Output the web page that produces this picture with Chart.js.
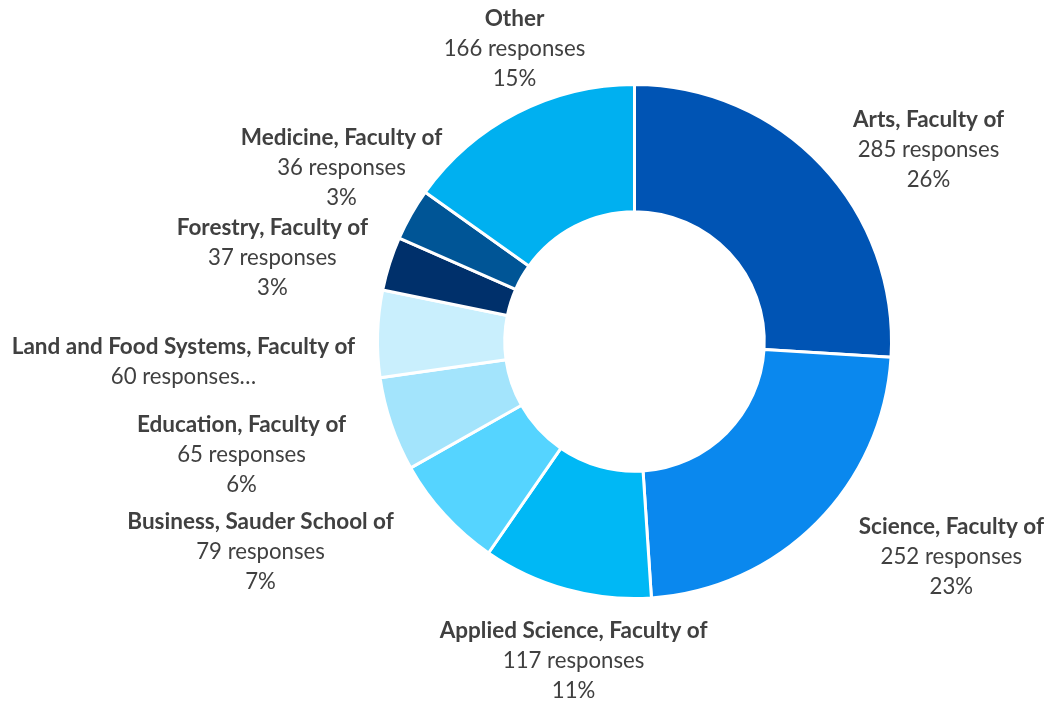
<!DOCTYPE html>
<html>
<head>
<meta charset="utf-8">
<title>Responses by faculty</title>
<script src="https://cdn.jsdelivr.net/npm/chart.js@4.4.1/dist/chart.umd.min.js"></script>
<style>
    html, body {
        margin: 0;
        padding: 0;
        background: #ffffff;
    }
    #wrap {
        width: 1048px;
        height: 702px;
    }
</style>
</head>
<body>
<div id="wrap">
    <canvas id="facultyChart" width="1048" height="702"></canvas>
</div>
<script>
const faculties = [
    "Arts, Faculty of",
    "Science, Faculty of",
    "Applied Science, Faculty of",
    "Business, Sauder School of",
    "Education, Faculty of",
    "Land and Food Systems, Faculty of",
    "Forestry, Faculty of",
    "Medicine, Faculty of",
    "Other"
];

const responses = [285, 252, 117, 79, 65, 60, 37, 36, 166];

// Excel cut this one short after the count
const truncatedLabels = ["Land and Food Systems, Faculty of"];

const sliceColors = [
    "#0054b4",
    "#0a88ee",
    "#00b8f5",
    "#55d4ff",
    "#a3e4fc",
    "#c9effd",
    "#00306b",
    "#005596",
    "#00b0f0"
];

// label block centres, in units of the outer radius from the chart centre
const labelOffsets = [
    [1.144, -0.747],
    [1.233, 0.837],
    [-0.237, 1.241],
    [-1.455, 0.817],
    [-1.529, 0.440],
    [-1.755, 0.078],
    [-1.409, -0.327],
    [-1.140, -0.677],
    [-0.467, -1.140]
];

const fontFamily = "Lato, 'Open Sans', sans-serif";
const total = responses.reduce((sum, value) => sum + value, 0);

function labelLines(index) {
    const name = faculties[index];
    const count = responses[index];
    if (truncatedLabels.includes(name)) {
        return [name, `${count} responses\u2026`];
    }
    const pct = Math.round((count / total) * 100);
    return [name, `${count} responses`, `${pct}%`];
}

const outsideLabels = {
    id: "outsideLabels",
    afterDatasetsDraw(chart) {
        const ctx = chart.ctx;
        const meta = chart.getDatasetMeta(0);
        const lineHeight = 30;

        ctx.save();
        ctx.fillStyle = "#404040";
        ctx.textAlign = "center";
        ctx.textBaseline = "middle";

        meta.data.forEach((arc, index) => {
            const offset = labelOffsets[index];
            const cx = arc.x + offset[0] * arc.outerRadius;
            const cy = arc.y + offset[1] * arc.outerRadius;
            const lines = labelLines(index);
            const top = cy - ((lines.length - 1) * lineHeight) / 2;

            lines.forEach((line, lineIndex) => {
                ctx.font = lineIndex === 0 ? `bold 22.5px ${fontFamily}` : `22.2px ${fontFamily}`;
                ctx.fillText(line, cx, top + lineIndex * lineHeight);
            });
        });

        ctx.restore();
    }
};

new Chart(document.getElementById("facultyChart"), {
    type: "doughnut",
    data: {
        labels: faculties,
        datasets: [
            {
                data: responses,
                backgroundColor: sliceColors,
                borderColor: "#ffffff",
                borderWidth: 3
            }
        ]
    },
    options: {
        responsive: false,
        animation: false,
        cutout: "50.5%",
        layout: {
            padding: { top: 83, bottom: 102, left: 376, right: 155 }
        },
        plugins: {
            legend: { display: false },
            tooltip: { enabled: false }
        }
    },
    plugins: [outsideLabels]
});
</script>
</body>
</html>
